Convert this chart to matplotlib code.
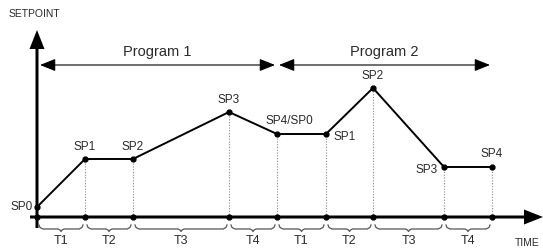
"""Perfil de setpoint com dois programas (rampa/patamar)."""
import matplotlib
matplotlib.use("Agg")
import matplotlib.pyplot as plt
from matplotlib import font_manager

# dados (unidades arbitrárias)
tempos = [0, 48, 96, 192, 240, 289, 336, 407, 455]
setpoints = [10, 58, 58, 105, 83, 83, 129, 50, 50]
rotulos_sp = ["SP0", "SP1", "SP2", "SP3", "SP4/SP0", "SP1", "SP2", "SP3", "SP4"]
rotulos_t = ["T1", "T2", "T3", "T4", "T1", "T2", "T3", "T4"]
programas = ["Program 1", "Program 2"]
limites_prog = [(3, 238), (242, 453)]

# deslocamento de cada rótulo SP (dx, dy, ha, va)
pos_rotulos = [
    (-4, 0, "right", "center"),
    (0, 6, "center", "bottom"),
    (0, 6, "center", "bottom"),
    (0, 6, "center", "bottom"),
    (12, 7, "center", "bottom"),
    (7, -3, "left", "center"),
    (0, 6, "center", "bottom"),
    (-6, -3, "right", "center"),
    (0, 7, "center", "bottom"),
]

nomes = [f.name for f in font_manager.fontManager.ttflist]
fonte = "Liberation Sans Narrow" if "Liberation Sans Narrow" in nomes else "Liberation Sans"
plt.rcParams["font.family"] = [fonte, "DejaVu Sans"]

cor_texto = "#2a2a2a"

fig = plt.figure(figsize=(5.43, 2.48), dpi=100)
ax = fig.add_axes([0, 0, 1, 1])
ax.set_xlim(-37, 506)
ax.set_ylim(-31, 217)
ax.set_aspect("equal")
ax.axis("off")

# eixos com setas
ax.arrow(0, -11, 0, 198, width=3, head_width=15, head_length=19,
         length_includes_head=True, color="black", lw=0)
ax.arrow(-7, 0, 513, 0, width=3, head_width=15, head_length=19,
         length_includes_head=True, color="black", lw=0)

# linhas pontilhadas verticais
for t, sp in zip(tempos[1:], setpoints[1:]):
    ax.plot([t, t], [0, sp], color="#888888", lw=0.8, ls=(0, (1, 1.5)))

# perfil
ax.plot(tempos, setpoints, color="black", lw=1.4, solid_joinstyle="miter")
ax.plot(tempos, setpoints, "o", color="black", ms=3.5)
ax.plot(tempos, [0] * len(tempos), "o", color="black", ms=3.5)

for t, sp, txt, (dx, dy, ha, va) in zip(tempos, setpoints, rotulos_sp, pos_rotulos):
    ax.text(t + dx, sp + dy, txt, ha=ha, va=va, fontsize=8.5, color=cor_texto)

# chaves sob o eixo do tempo
for i, txt in enumerate(rotulos_t):
    a, b = tempos[i] + 2, tempos[i + 1] - 2
    c = (a + b) / 2
    topo, meio, base = -8, -12, -14.5
    xs = [a, a + 1, a + 4, c - 3, c - 1, c, c + 1, c + 3, b - 4, b - 1, b]
    ys = [topo, meio + 1.5, meio, meio, meio - 1, base, meio - 1, meio, meio, meio + 1.5, topo]
    ax.plot(xs, ys, color="#555555", lw=0.9)
    ax.text(c, -24, txt, ha="center", va="center", fontsize=9, color=cor_texto)

# setas dos programas
for (x0, x1), nome in zip(limites_prog, programas):
    ax.annotate("", xy=(x1, 152), xytext=(x0, 152),
                arrowprops=dict(arrowstyle="<|-|>,head_length=0.95,head_width=0.38",
                                mutation_scale=10, color="black", lw=0.8,
                                shrinkA=0, shrinkB=0))
    ax.text((x0 + x1) / 2, 158, nome, ha="center", va="bottom",
            fontsize=10.5, color=cor_texto)

ax.text(-28, 203, "SETPOINT", ha="left", va="center", fontsize=7.5, color=cor_texto)
ax.text(490, -26, "TIME", ha="center", va="center", fontsize=7.5, color=cor_texto)

fig.savefig("out.png", dpi=100)
